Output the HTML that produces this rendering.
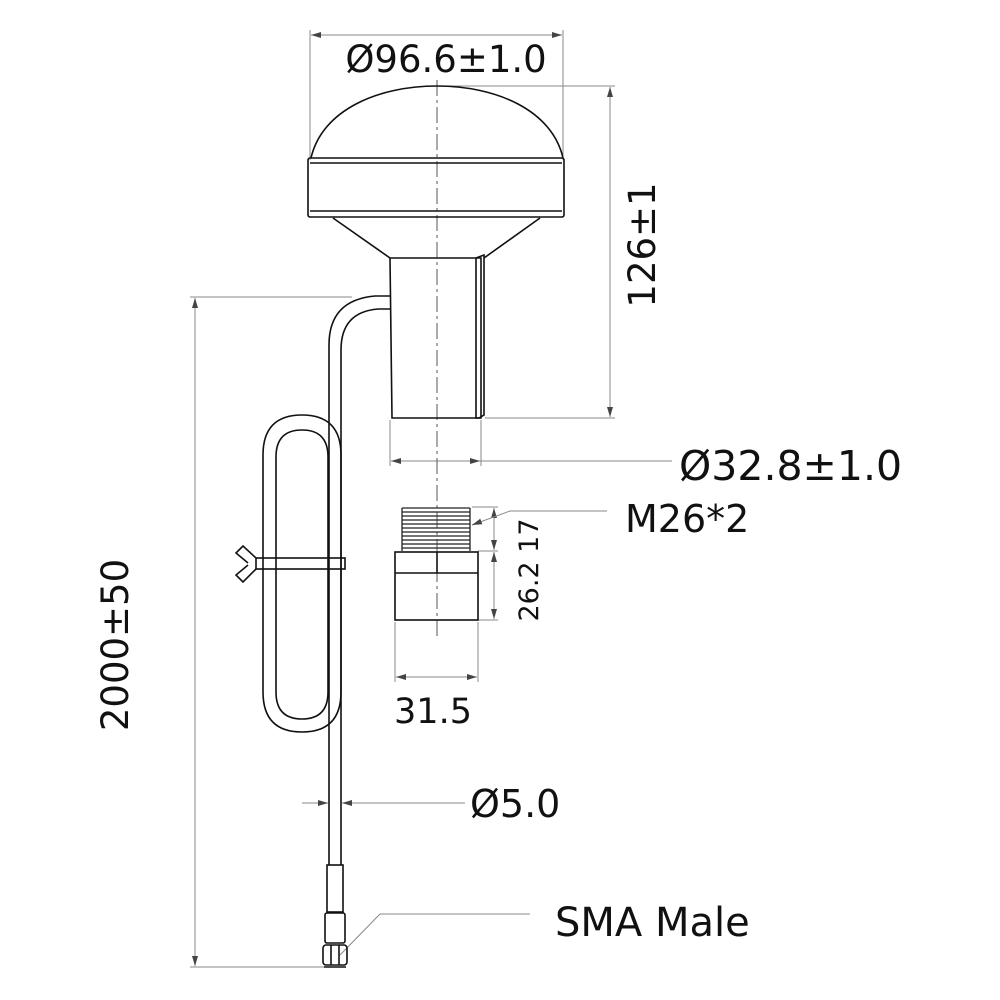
<!DOCTYPE html>
<html><head><meta charset="utf-8"><style>
html,body{margin:0;padding:0;background:#fff;}
svg{display:block;}
text{font-family:"DejaVu Sans","Liberation Sans",sans-serif;fill:#111;}
</style></head><body>
<svg width="1000" height="1000" viewBox="0 0 1000 1000" xmlns="http://www.w3.org/2000/svg">
<defs>
<marker id="a" viewBox="0 0 10 6" refX="10" refY="3" markerWidth="10" markerHeight="6" orient="auto-start-reverse" markerUnits="userSpaceOnUse"><path d="M0,0 L10,3 L0,6 z" fill="#444"/></marker>
</defs>
<g fill="none" stroke="#888" stroke-width="1">
<line x1="310" y1="30" x2="310" y2="160"/>
<line x1="563" y1="30" x2="563" y2="160"/>
<line x1="311" y1="35" x2="562" y2="35" marker-start="url(#a)" marker-end="url(#a)"/>
<line x1="440" y1="86" x2="615" y2="86"/>
<line x1="485" y1="418" x2="615" y2="418"/>
<line x1="610" y1="87" x2="610" y2="417" marker-start="url(#a)" marker-end="url(#a)"/>
<line x1="390" y1="420" x2="390" y2="466"/>
<line x1="481" y1="420" x2="481" y2="466"/>
<line x1="391" y1="461" x2="480" y2="461" marker-start="url(#a)" marker-end="url(#a)"/>
<line x1="480" y1="461" x2="672" y2="461"/>
<line x1="190" y1="297" x2="352" y2="297"/>
<line x1="190" y1="967" x2="325" y2="967"/>
<line x1="195" y1="298" x2="195" y2="966" marker-start="url(#a)" marker-end="url(#a)"/>
<line x1="472" y1="507" x2="498" y2="507"/>
<line x1="478" y1="551" x2="498" y2="551"/>
<line x1="478" y1="620" x2="498" y2="620"/>
<line x1="494" y1="508" x2="494" y2="550" marker-start="url(#a)" marker-end="url(#a)"/>
<line x1="494" y1="552" x2="494" y2="619" marker-start="url(#a)" marker-end="url(#a)"/>
<polyline points="607,511 510,511 472,525"/>
<line x1="480" y1="522" x2="472" y2="525" marker-end="url(#a)"/>
<line x1="395" y1="622" x2="395" y2="682"/>
<line x1="478" y1="622" x2="478" y2="682"/>
<line x1="396" y1="677" x2="477" y2="677" marker-start="url(#a)" marker-end="url(#a)"/>
<line x1="302" y1="803" x2="328" y2="803" marker-end="url(#a)"/>
<line x1="465" y1="803" x2="342" y2="803" marker-end="url(#a)"/>
<polyline points="530,914 380,914 340,955"/>
<line x1="437" y1="80" x2="437" y2="640" stroke="#555" stroke-dasharray="16,4,3,4"/>
</g>
<g fill="none" stroke="#111" stroke-width="1.6">
<path d="M311,158 C322,110 378,86 437,86 C496,86 552,110 563,158"/>
<rect x="308" y="158" width="256" height="59" rx="2"/>
<line x1="310" y1="163" x2="562" y2="163"/>
<line x1="310" y1="211" x2="562" y2="211"/>
<path d="M333,218 L390,258 M540,218 L484,258"/>
<path d="M390,258 L481,258 L481,418 L392,418 Z"/>
<path d="M476,258 L484,255 L484,415 L479,418 L476,418 Z"/>
<path d="M390,296 L375,296 Q329,300 329,345 L329,865"/>
<path d="M390,309 L378,309 Q341,312 341,350 L341,865"/>
<path d="M263,455 Q263,415 302,415 Q341,415 341,455 L341,692 Q341,732 302,732 Q263,732 263,692 Z"/>
<path d="M276,457 Q276,430 302,430 Q328,430 328,457 L328,692 Q328,719 302,719 Q276,719 276,692 Z"/>
<rect x="256" y="558" width="89" height="11"/>
<path d="M256,558 L243,546 L236,553 L248,563 M256,569 L243,582 L236,575 L248,565"/>
<rect x="327" y="865" width="16" height="47"/>
<rect x="325" y="913" width="20" height="30" rx="2"/>
<rect x="323" y="945" width="24" height="20" rx="3"/>
<line x1="331" y1="945" x2="331" y2="965"/>
<line x1="339" y1="945" x2="339" y2="965"/>
<line x1="324" y1="967" x2="346" y2="967"/>
<rect x="395" y="552" width="83" height="68"/>
<line x1="395" y1="573" x2="478" y2="573"/>
<line x1="437" y1="552" x2="437" y2="573"/>
</g>
<g stroke="#222" stroke-width="1.3">
<line x1="402" y1="508" x2="470" y2="508"/><line x1="402" y1="512" x2="470" y2="512"/>
<line x1="402" y1="516" x2="470" y2="516"/><line x1="402" y1="520" x2="470" y2="520"/>
<line x1="402" y1="524" x2="470" y2="524"/><line x1="402" y1="528" x2="470" y2="528"/>
<line x1="402" y1="532" x2="470" y2="532"/><line x1="402" y1="536" x2="470" y2="536"/>
<line x1="402" y1="540" x2="470" y2="540"/><line x1="402" y1="544" x2="470" y2="544"/>
<line x1="402" y1="548" x2="470" y2="548"/>
<line x1="402" y1="508" x2="402" y2="551"/><line x1="470" y1="508" x2="470" y2="551"/>
</g>
<text x="446" y="72" font-size="37" text-anchor="middle">Ø96.6±1.0</text>
<text transform="translate(655,245) rotate(-90)" font-size="37" text-anchor="middle">126±1</text>
<text x="679" y="480" font-size="41">Ø32.8±1.0</text>
<text x="625" y="532" font-size="38">M26*2</text>
<text transform="translate(538,570) rotate(-90)" font-size="27" text-anchor="middle">26.2 17</text>
<text x="433" y="723" font-size="35" text-anchor="middle">31.5</text>
<text x="470" y="817" font-size="38">Ø5.0</text>
<text x="555" y="936" font-size="40">SMA Male</text>
<text transform="translate(128,645) rotate(-90)" font-size="37" text-anchor="middle">2000±50</text>
</svg>
</body></html>
